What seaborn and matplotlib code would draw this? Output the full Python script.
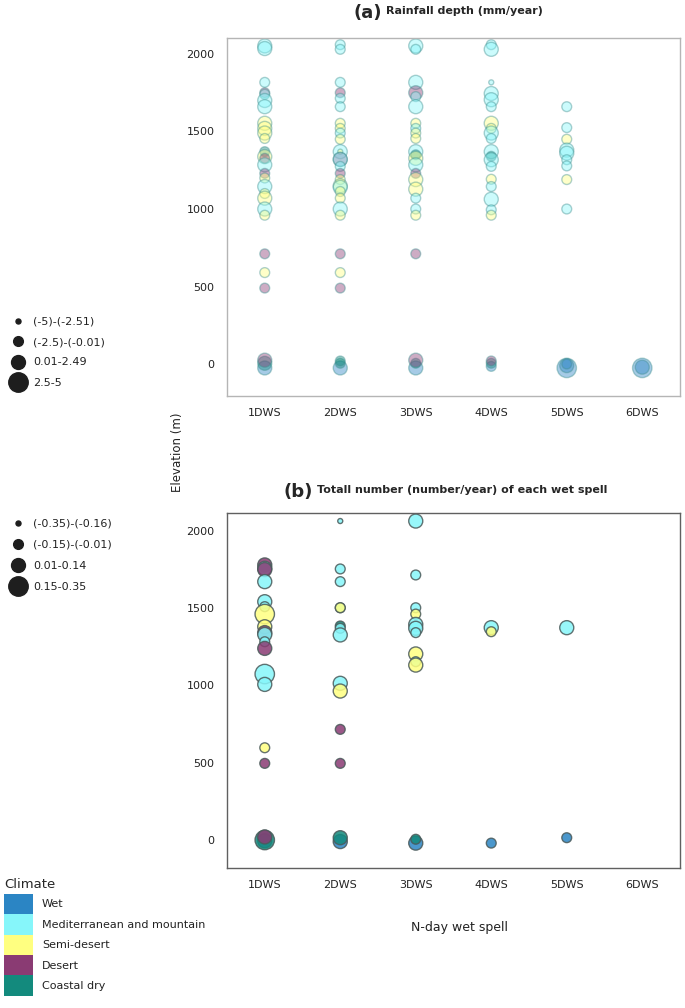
import numpy as np
import pandas as pd
import matplotlib
matplotlib.use("Agg")
import matplotlib.pyplot as plt
import seaborn as sns
from matplotlib.lines import Line2D
from matplotlib.patches import Patch

# ---------------- data ----------------
spells = ["1DWS", "2DWS", "3DWS", "4DWS", "5DWS", "6DWS"]
climate_codes = ["W", "M", "S", "D", "C"]
climate_names = ["Wet", "Mediterranean and mountain", "Semi-desert", "Desert", "Coastal dry"]
climate_colors = ["#2b85c4", "#86f6fa", "#ffff80", "#8a3b73", "#138a7d"]

size_labels_a = ["(-5)-(-2.51)", "(-2.5)-(-0.01)", "0.01-2.49", "2.5-5"]
size_labels_b = ["(-0.35)-(-0.16)", "(-0.15)-(-0.01)", "0.01-0.14", "0.15-0.35"]

# Panel (a): rainfall depth class per station
a_spell = (["1DWS"] * 28 + ["2DWS"] * 29 + ["3DWS"] * 24 + ["4DWS"] * 22
           + ["5DWS"] * 12 + ["6DWS"] * 2)
a_elev = [2052, 2035, 1817, 1750, 1740, 1700, 1660, 1553, 1520, 1490, 1455, 1370, 1338, 1327,
          1285, 1230, 1200, 1145, 1100, 1070, 1000, 960, 711, 590, 490, -25, 5, 25,
          2060, 2030, 1817, 1750, 1714, 1660, 1553, 1520, 1490, 1450, 1370, 1370, 1320, 1320,
          1275, 1230, 1190, 1150, 1140, 1113, 1070, 1000, 960, 711, 590, 490, -25, 5, 20,
          2052, 2030, 1817, 1750, 1725, 1660, 1553, 1520, 1490, 1455, 1370, 1350, 1327, 1285,
          1230, 1190, 1128, 1070, 1000, 960, 711, -25, 5, 25,
          2060, 2030, 1817, 1745, 1705, 1660, 1553, 1520, 1490, 1455, 1370, 1340, 1318, 1275,
          1192, 1145, 1063, 995, 960, -15, 5, 20,
          1660, 1525, 1450, 1380, 1360, 1318, 1278, 1190, 1000, -25, -10, 0,
          -25, -20]
a_clim = ["M", "M", "M", "D", "M", "M", "M", "S", "S", "S", "S", "C", "S", "D",
          "M", "D", "S", "M", "S", "S", "M", "S", "D", "S", "D", "W", "C", "D",
          "M", "M", "M", "D", "M", "M", "S", "S", "M", "S", "M", "S", "D", "M",
          "M", "D", "S", "S", "M", "S", "S", "M", "S", "D", "S", "D", "W", "C", "C",
          "M", "M", "M", "D", "M", "M", "S", "M", "S", "S", "M", "C", "S", "M",
          "D", "S", "S", "M", "M", "S", "D", "W", "C", "D",
          "M", "M", "M", "M", "M", "M", "S", "S", "M", "M", "M", "C", "M", "M",
          "S", "M", "M", "M", "S", "W", "C", "D",
          "M", "M", "S", "M", "M", "M", "M", "S", "M", "W", "W", "W",
          "W", "W"]
a_class = [3, 3, 2, 2, 2, 3, 3, 3, 3, 3, 2, 2, 3, 2,
           3, 2, 2, 3, 2, 3, 3, 2, 2, 2, 2, 3, 3, 3,
           2, 2, 2, 2, 2, 2, 2, 2, 2, 2, 3, 1, 3, 3,
           2, 2, 2, 3, 3, 2, 2, 3, 2, 2, 2, 2, 3, 2, 2,
           3, 2, 3, 3, 2, 3, 2, 2, 2, 2, 3, 2, 3, 3,
           2, 3, 3, 2, 2, 2, 2, 3, 2, 3,
           2, 3, 1, 3, 3, 2, 3, 2, 3, 2, 3, 2, 3, 2,
           2, 2, 3, 2, 2, 2, 2, 2,
           2, 2, 2, 3, 3, 2, 2, 2, 2, 4, 3, 2,
           4, 3]

# Panel (b): total number class per station
b_spell = (["1DWS"] * 19 + ["2DWS"] * 14 + ["3DWS"] * 12 + ["4DWS"] * 3 + ["5DWS"] * 2)
b_elev = [1780, 1758, 1750, 1672, 1542, 1510, 1462, 1380, 1342, 1330, 1283, 1240, 1074, 1007,
          597, 496, -5, 0, 20,
          2064, 1754, 1672, 1503, 1503, 1385, 1370, 1327, 1014, 964, 716, 496, -10, 15,
          2064, 1715, 1503, 1462, 1395, 1370, 1342, 1204, 1154, 1132, -20, 5,
          1374, 1348, -20,
          1374, 15]
b_clim = ["D", "M", "D", "M", "M", "M", "S", "S", "D", "M", "M", "D", "M", "M",
          "S", "D", "W", "C", "D",
          "M", "M", "M", "M", "S", "C", "M", "M", "M", "S", "D", "D", "W", "C",
          "M", "M", "M", "S", "M", "M", "M", "S", "M", "S", "W", "C",
          "M", "S", "W",
          "M", "W"]
b_class = [3, 3, 3, 3, 3, 2, 4, 3, 3, 3, 2, 3, 4, 3,
           2, 2, 3, 4, 3,
           1, 2, 2, 2, 2, 2, 2, 3, 3, 3, 2, 2, 3, 3,
           3, 2, 2, 2, 3, 3, 2, 3, 2, 3, 3, 2,
           3, 2, 2,
           3, 2]

# ---------------- style ----------------
size_map = {1: 13, 2: 50, 3: 102, 4: 195}
legend_ms = [3.6, 7.0, 10.0, 14.0]
palette = dict(zip(climate_names, climate_colors))
code_to_name = dict(zip(climate_codes, climate_names))

sns.set_theme(style="white")
plt.rcParams["font.family"] = ["DejaVu Sans"]

fig = plt.figure(figsize=(6.85, 10.08), dpi=100)
W, H = 685.0, 1008.0
ax_a = fig.add_axes([227 / W, 1 - 396 / H, 453 / W, 358 / H])
ax_b = fig.add_axes([227 / W, 1 - 868 / H, 453 / W, 355 / H])


def draw_panel(ax, spell, elev, clim, cls, alpha, edge, spine_col, ylim):
    df = pd.DataFrame({
        "pos": [spells.index(s) for s in spell],
        "Elevation": elev,
        "Climate": [code_to_name[c] for c in clim],
        "cls": cls,
    })
    sns.scatterplot(data=df, x="pos", y="Elevation", hue="Climate", palette=palette,
                    size="cls", sizes=size_map, alpha=alpha, edgecolor=edge,
                    linewidth=1.0, legend=False, ax=ax)
    ax.set_xlim(-0.5, 5.5)
    ax.set_ylim(*ylim)
    ax.set_xticks(range(len(spells)))
    ax.set_xticklabels(spells)
    ax.set_yticks([0, 500, 1000, 1500, 2000])
    ax.set_xlabel("")
    ax.set_ylabel("")
    ax.tick_params(axis="both", labelsize=8, length=3, width=0.8,
                   color="#888888", labelcolor="#222222", pad=6)
    ax.tick_params(axis="x", pad=6)
    for sp in ax.spines.values():
        sp.set_color(spine_col)
        sp.set_linewidth(1.0)
        sp.set_visible(True)


draw_panel(ax_a, a_spell, a_elev, a_clim, a_class, 0.42, "#3f8f8f", "#b5b5b5", (-206, 2103))
draw_panel(ax_b, b_spell, b_elev, b_clim, b_class, 0.85, "#4a5a5a", "#606060", (-181, 2116))

# titles
fig.text(382 / W, 1 - 13 / H, "(a)", ha="right", va="center", fontsize=13, weight="bold")
fig.text(386 / W, 1 - 11 / H, "Rainfall depth (mm/year)", ha="left", va="center",
         fontsize=8, weight="bold")
fig.text(313 / W, 1 - 492 / H, "(b)", ha="right", va="center", fontsize=13, weight="bold")
fig.text(317 / W, 1 - 490 / H, "Totall number (number/year) of each wet spell", ha="left",
         va="center", fontsize=8, weight="bold")

fig.text(178 / W, 1 - 452 / H, "Elevation (m)", rotation=90, ha="center", va="center",
         fontsize=8.5, color="#222222")
fig.text(460 / W, 1 - 927 / H, "N-day wet spell", ha="center", va="center",
         fontsize=9, color="#222222")


def size_legend(labels, top_px, spacing):
    handles = [Line2D([], [], linestyle="none", marker="o", markersize=ms,
                      markerfacecolor="#1e1e1e", markeredgecolor="#1e1e1e")
               for ms in legend_ms]
    leg = fig.legend(handles, labels, loc="upper left",
                     bbox_to_anchor=(11 / W, 1 - top_px / H), frameon=False,
                     fontsize=8, handlelength=1.2, handletextpad=0.8,
                     labelspacing=spacing, borderpad=0, borderaxespad=0)
    for t in leg.get_texts():
        t.set_color("#222222")
    return leg


size_legend(size_labels_a, 317, 0.92)
size_legend(size_labels_b, 519, 0.98)

clim_handles = [Patch(facecolor=c, edgecolor="none") for c in climate_colors]
leg_c = fig.legend(clim_handles, climate_names, loc="upper left",
                   bbox_to_anchor=(4 / W, 1 - 878 / H), frameon=False, fontsize=8,
                   title="Climate", title_fontsize=9.5, handlelength=2.6,
                   handleheight=2.45, labelspacing=0.0, handletextpad=0.8,
                   borderpad=0, borderaxespad=0, alignment="left")
leg_c._legend_box.sep = 2
for t in leg_c.get_texts():
    t.set_color("#222222")

fig.savefig("out.png", dpi=100, facecolor="white")
